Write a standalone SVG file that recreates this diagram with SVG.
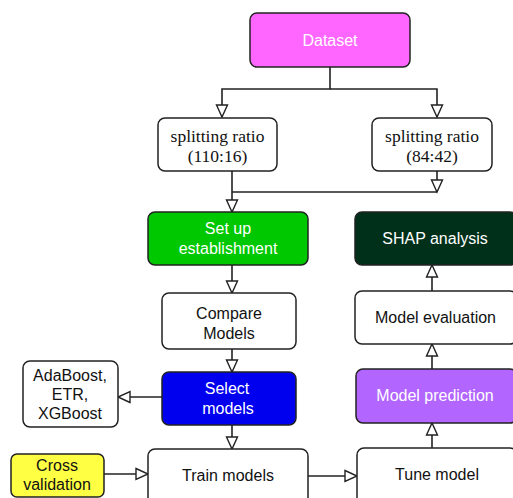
<svg xmlns="http://www.w3.org/2000/svg" width="513" height="498" viewBox="0 0 513 498">
<style>
.box{stroke:#222;stroke-width:1.5}
.w{fill:#fff}
.sans{font-family:"Liberation Sans",Arial,sans-serif;font-size:16px;text-anchor:middle;dominant-baseline:central}
.serif{font-family:"Liberation Serif","Times New Roman",serif;font-size:17.5px;text-anchor:middle;dominant-baseline:central;fill:#111}
.lt{fill:#fff}
.dk{fill:#111}
.c{fill:none;stroke:#222;stroke-width:1.6}
</style>
<defs>
<marker id="ah" markerUnits="userSpaceOnUse" markerWidth="15" markerHeight="14" refX="13" refY="7" orient="auto">
<path d="M1,1.5 L13,7 L1,12.5 Z" fill="#fff" stroke="#222" stroke-width="1.4"/>
</marker>
</defs>
<rect width="513" height="498" fill="#fff"/>
<g id="connectors">
<path class="c" d="M330,67 V89 H222 V117" marker-end="url(#ah)"/>
<path class="c" d="M330,89 H437 V117" marker-end="url(#ah)"/>
<path class="c" d="M232,171 V212" marker-end="url(#ah)"/>
<path class="c" d="M437,171 V192" marker-end="url(#ah)"/>
<path class="c" d="M232,192 H437"/>
<path class="c" d="M232,265 V293" marker-end="url(#ah)"/>
<path class="c" d="M232,349 V372" marker-end="url(#ah)"/>
<path class="c" d="M162,397 H118" marker-end="url(#ah)"/>
<path class="c" d="M232,425 V449" marker-end="url(#ah)"/>
<path class="c" d="M104,474 H148" marker-end="url(#ah)"/>
<path class="c" d="M308,476 H357" marker-end="url(#ah)"/>
<path class="c" d="M432,448 V423" marker-end="url(#ah)"/>
<path class="c" d="M432,369 V344" marker-end="url(#ah)"/>
<path class="c" d="M432,291 V265" marker-end="url(#ah)"/>
</g>
<g id="dataset">
<rect class="box" x="250" y="13" width="160" height="54" rx="7" fill="#ff66ff"/>
<text class="sans lt" x="330" y="40">Dataset</text>
</g>
<g id="split1">
<rect class="box w" x="158" y="118" width="119" height="53" rx="7"/>
<text class="serif" x="217.5" y="136">splitting ratio</text>
<text class="serif" x="217.5" y="156">(110:16)</text>
</g>
<g id="split2">
<rect class="box w" x="372" y="118" width="120" height="53" rx="7"/>
<text class="serif" x="432" y="136">splitting ratio</text>
<text class="serif" x="432" y="156">(84:42)</text>
</g>
<g id="setup">
<rect class="box" x="148" y="212" width="160" height="53" rx="7" fill="#00c800"/>
<text class="sans lt" x="228" y="228">Set up</text>
<text class="sans lt" x="228" y="248">establishment</text>
</g>
<g id="shap">
<rect class="box" x="355" y="212" width="162" height="53" rx="7" fill="#00301a"/>
<text class="sans lt" x="435" y="238">SHAP analysis</text>
</g>
<g id="compare">
<rect class="box w" x="162" y="293" width="134" height="56" rx="7"/>
<text class="sans dk" x="229" y="313">Compare</text>
<text class="sans dk" x="229" y="333">Models</text>
</g>
<g id="evaluation">
<rect class="box w" x="355" y="291" width="162" height="53" rx="7"/>
<text class="sans dk" x="435.5" y="317">Model evaluation</text>
</g>
<g id="adaboost">
<rect class="box w" x="23" y="361" width="95" height="66" rx="7"/>
<text class="sans dk" x="70" y="375">AdaBoost,</text>
<text class="sans dk" x="70" y="394">ETR,</text>
<text class="sans dk" x="70" y="413">XGBoost</text>
</g>
<g id="select">
<rect class="box" x="162" y="372" width="134" height="53" rx="7" fill="#0000ee"/>
<text class="sans lt" x="227" y="388">Select</text>
<text class="sans lt" x="228" y="408">models</text>
</g>
<g id="prediction">
<rect class="box" x="356" y="369" width="161" height="54" rx="7" fill="#b266ff"/>
<text class="sans lt" x="435" y="395">Model prediction</text>
</g>
<g id="cross">
<rect class="box" x="11" y="454" width="93" height="43" rx="6" fill="#ffff44"/>
<text class="sans dk" x="57" y="465">Cross</text>
<text class="sans dk" x="57" y="484">validation</text>
</g>
<g id="train">
<rect class="box w" x="148" y="449" width="160" height="60" rx="7"/>
<text class="sans dk" x="228" y="475">Train models</text>
</g>
<g id="tune">
<rect class="box w" x="357" y="448" width="160" height="60" rx="7"/>
<text class="sans dk" x="437" y="474">Tune model</text>
</g>
</svg>
